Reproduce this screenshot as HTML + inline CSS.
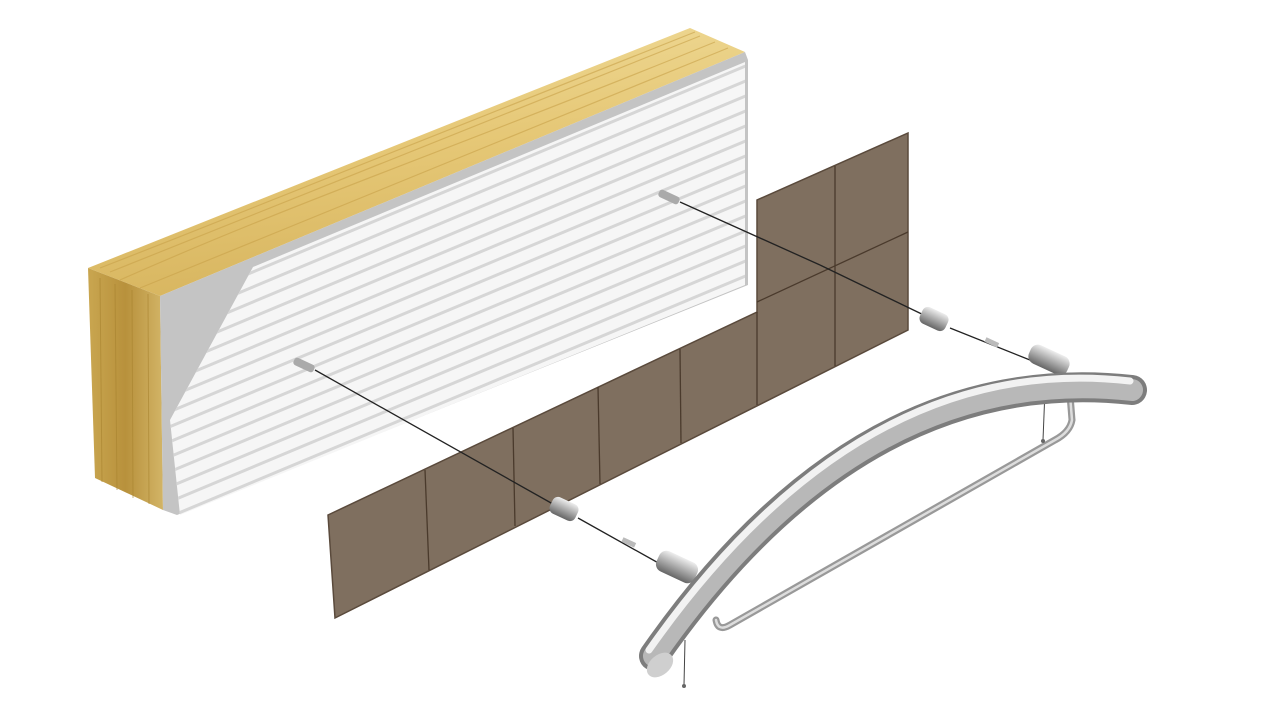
<!DOCTYPE html>
<html><head><meta charset="utf-8"><style>html,body{margin:0;padding:0;background:#fff;width:1280px;height:720px;overflow:hidden}</style></head>
<body>
<svg width="1280" height="720" viewBox="0 0 1280 720" xmlns="http://www.w3.org/2000/svg">
<defs>
<linearGradient id="wtop" x1="0" y1="0" x2="0.2" y2="1">
<stop offset="0" stop-color="#f0dc9a"/><stop offset="0.5" stop-color="#e6c877"/><stop offset="1" stop-color="#d8b660"/></linearGradient>
<linearGradient id="wside" x1="0" y1="0" x2="1" y2="0">
<stop offset="0" stop-color="#c9a650"/><stop offset="0.5" stop-color="#b8913c"/><stop offset="1" stop-color="#d2b466"/></linearGradient>
<linearGradient id="cyl" x1="0" y1="0" x2="0" y2="1">
<stop offset="0" stop-color="#eee"/><stop offset="0.5" stop-color="#aaa"/><stop offset="1" stop-color="#666"/></linearGradient>
<clipPath id="wc"><polygon points="253,267 745,62 745,285 180,515 170,420"/></clipPath>
</defs>
<!-- wood -->
<polygon points="88,268 690,28 745,52 160,296" fill="url(#wtop)"/>
<g stroke="#c9a24a" stroke-width="1.2" opacity="0.6" fill="none">
<path d="M110,272 L700,36"/><path d="M120,280 C300,200 450,150 715,42"/><path d="M140,288 L728,48"/><path d="M100,268 C300,190 500,110 695,32"/></g>
<polygon points="88,268 160,296 163,510 95,478" fill="url(#wside)"/>
<g stroke="#a8832f" stroke-width="1" opacity="0.6"><path d="M100,278 L102,482"/><path d="M115,284 L117,490"/><path d="M132,290 L133,498"/><path d="M148,294 L149,504"/></g>
<!-- gray layer -->
<polygon points="160,296 745,52 748,60 748,285 177,515 163,510" fill="#c4c4c4"/>
<!-- white insulation -->
<polygon points="253,267 745,62 745,285 180,515 170,420" fill="#f6f6f6"/>
<g clip-path="url(#wc)" stroke="#d6d6d6" stroke-width="3">
<path d="M150,300 L760,45"/><path d="M150,315 L760,60"/><path d="M150,330 L760,75"/><path d="M150,345 L760,90"/><path d="M150,360 L760,105"/><path d="M150,375 L760,120"/><path d="M150,390 L760,135"/><path d="M150,405 L760,150"/><path d="M150,420 L760,165"/><path d="M150,435 L760,180"/><path d="M150,450 L760,195"/><path d="M150,465 L760,210"/><path d="M150,480 L760,225"/><path d="M150,495 L760,240"/><path d="M150,510 L760,255"/><path d="M150,525 L760,270"/><path d="M150,540 L760,285"/><path d="M150,555 L760,300"/><path d="M150,570 L760,315"/></g>
<!-- anchors in wall -->
<rect x="293" y="361" width="22" height="8" rx="3" fill="#aaa" transform="rotate(25 304 365)"/>
<rect x="658" y="193" width="22" height="8" rx="3" fill="#aaa" transform="rotate(25 669 197)"/>
<!-- tiles -->
<polygon points="328,515 757,312 757,200 908,133 908,330 335,618" fill="#7f6f5f" stroke="#5a4a3c" stroke-width="1.5"/>
<g stroke="#4a3a2c" stroke-width="1.3">
<path d="M425,470 L429,570"/><path d="M513,428 L515,526"/><path d="M598,387 L600,484"/><path d="M680,349 L681,443"/><path d="M757,312 L757,405"/><path d="M835,166 L835,366"/>
<path d="M757,302 L908,232"/></g>
<!-- cables -->
<g stroke="#222" stroke-width="1.3">
<path d="M315,370 L560,508"/><path d="M578,518 L662,565"/>
<path d="M680,202 L820,265"/><path d="M820,265 L930,318"/><path d="M950,328 L1035,362"/></g>
<!-- spacers -->
<g>
<rect x="550" y="500" width="28" height="18" rx="6" fill="url(#cyl)" transform="rotate(25 564 509)"/>
<rect x="920" y="310" width="28" height="18" rx="6" fill="url(#cyl)" transform="rotate(25 934 319)"/>
<rect x="622" y="540" width="14" height="5" fill="#bbb" transform="rotate(25 629 542)"/>
<rect x="985" y="340" width="14" height="5" fill="#bbb" transform="rotate(25 992 342)"/>
<rect x="656" y="556" width="42" height="22" rx="8" fill="url(#cyl)" transform="rotate(25 677 567)"/>
<rect x="1028" y="350" width="42" height="20" rx="8" fill="url(#cyl)" transform="rotate(25 1049 360)"/>
</g>
<!-- inner bar -->
<path d="M1070,395 L1072,420 Q1070,432 1055,440 L730,625 Q718,632 716,620" fill="none" stroke="#999" stroke-width="7" stroke-linecap="round"/>
<path d="M1070,395 L1072,420 Q1070,432 1055,440 L730,625 Q718,632 716,620" fill="none" stroke="#ddd" stroke-width="2.5" stroke-linecap="round"/>
<!-- screws -->
<g stroke="#444" stroke-width="1"><path d="M1045,390 L1043,440"/><path d="M685,640 L684,685"/></g>
<circle cx="1043" cy="441" r="2" fill="#666"/><circle cx="684" cy="686" r="2" fill="#666"/>
<!-- handle -->
<path d="M654,656 Q860,360 1132,390" fill="none" stroke="#7d7d7d" stroke-width="30" stroke-linecap="round"/>
<path d="M654,656 Q860,360 1132,390" fill="none" stroke="#b8b8b8" stroke-width="22" stroke-linecap="round"/>
<path d="M649,650 Q860,350 1130,381" fill="none" stroke="#f2f2f2" stroke-width="7" stroke-linecap="round"/>
<ellipse cx="660" cy="665" rx="15" ry="10" fill="#cfcfcf" transform="rotate(-40 660 665)"/>
</svg>
</body></html>
